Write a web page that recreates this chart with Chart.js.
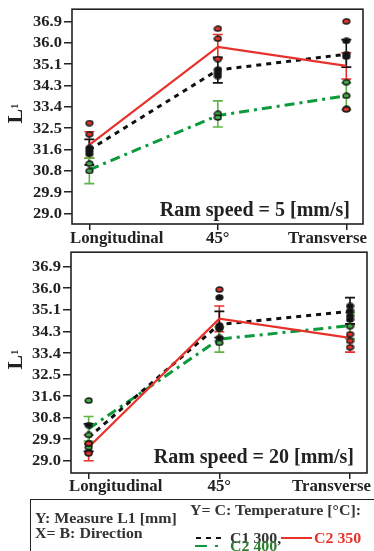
<!DOCTYPE html>
<html>
<head>
<meta charset="utf-8">
<script src="https://cdn.jsdelivr.net/npm/chart.js@4.4.0/dist/chart.umd.min.js"></script>
<style>
  body { margin: 0; background: #fff; width: 374px; height: 551px; overflow: hidden; position: relative; font-family: "Liberation Serif", "Times New Roman", serif; }
  canvas { position: absolute; left: 0; }
  #legend { position: absolute; left: 30px; top: 499px; width: 380px; height: 80px; border: 1.5px solid #222; box-sizing: border-box; }
  .lt { position: absolute; font-weight: bold; font-size: 15px; line-height: 16px; white-space: nowrap; color: #333; transform: scaleX(1.06); transform-origin: left center; }
  .sw { position: absolute; height: 0; }
</style>
</head>
<body>
<canvas id="chart1" width="374" height="247" style="top:0"></canvas>
<canvas id="chart2" width="374" height="252" style="top:243px"></canvas>
<div id="legend"></div>
<div class="lt" style="left:35px;top:510px">Y: Measure L1 [mm]</div>
<div class="lt" style="left:35px;top:525px">X= B: Direction</div>
<div class="lt" style="left:190px;top:502px">Y= C: Temperature [°C]:</div>
<div class="sw" style="left:196px;top:537px;width:5px;border-top:2.5px solid #111"></div>
<div class="sw" style="left:206px;top:537px;width:5px;border-top:2.5px solid #111"></div>
<div class="sw" style="left:216px;top:537px;width:5px;border-top:2.5px solid #111"></div>
<div class="lt" style="left:230px;top:530px">C1 300,</div>
<div class="sw" style="left:281px;top:537px;width:31px;border-top:2px solid #e8312a"></div>
<div class="lt" style="left:314px;top:530px;color:#e8312a">C2 350</div>
<div class="sw" style="left:195px;top:545px;width:12px;border-top:2.5px solid #0b9a3c"></div>
<div class="sw" style="left:215px;top:545px;width:3px;border-top:2.5px solid #0b9a3c"></div>
<div class="lt" style="left:230px;top:538px;color:#2e7d32">C2 400</div>
<script>
const categories = ['Longitudinal', '45°', 'Transverse'];
const yTickLabels = ['29.0', '29.9', '30.8', '31.6', '32.5', '33.4', '34.3', '35.1', '36.0', '36.9'];
const seriesNames = ['C1 300', 'C2 350', 'C2 400'];
const panelTitles = ['Ram speed = 5 [mm/s]', 'Ram speed = 20 [mm/s]'];

// ram speed 5 mm/s
const s5MeanC300 = [31.62, 34.90, 35.55];
const s5LowC300  = [31.00, 34.37, 35.02];
const s5HighC300 = [32.05, 35.42, 36.15];
const s5PtsC300  = [[31.45, 31.58, 31.70], [34.65, 34.78, 34.92], [35.45, 35.55, 36.10]];
const s5MeanC350 = [31.82, 35.85, 35.07];
const s5LowC350  = [31.28, 35.35, 34.53];
const s5HighC350 = [32.36, 36.36, 35.61];
const s5PtsC350  = [[32.72, 32.26], [36.60, 36.19, 35.35], [36.90, 33.28]];
const s5MeanC400 = [30.80, 33.03, 33.84];
const s5LowC400  = [30.23, 32.56, 33.27];
const s5HighC400 = [31.28, 33.63, 34.37];
const s5PtsC400  = [[31.05, 30.75], [33.10, 32.95], [34.40, 33.84, 33.30]];

// ram speed 20 mm/s
const s20MeanC300 = [29.95, 34.55, 35.08];
const s20LowC300  = [29.38, 34.02, 34.57];
const s20HighC300 = [30.50, 35.08, 35.64];
const s20PtsC300  = [[30.45, 29.70, 29.35], [35.65, 34.50, 34.40, 34.00], [35.30, 35.10, 34.90, 34.75]];
const s20MeanC350 = [29.55, 34.78, 34.00];
const s20LowC350  = [29.00, 34.25, 33.42];
const s20HighC350 = [30.05, 35.30, 34.55];
const s20PtsC350  = [[29.30, 29.70], [35.97], [34.15, 33.88, 33.62]];
const s20MeanC400 = [30.30, 33.95, 34.50];
const s20LowC400  = [29.80, 33.42, 33.97];
const s20HighC400 = [30.80, 34.45, 35.03];
const s20PtsC400  = [[31.45, 30.05, 29.55], [34.40, 33.80], [34.48]];

const RED = '#e8312a', BLACK = '#111111', GREEN = '#0b9a3c', GREEN_ERR = '#5db546';
const FONT = 'Liberation Serif';

function dot(fill) {
  const c = document.createElement('canvas');
  c.width = 9; c.height = 7;
  const g = c.getContext('2d');
  g.beginPath();
  g.ellipse(4.5, 3.5, 3.4, 2.5, 0, 0, 2 * Math.PI);
  g.fillStyle = fill; g.fill();
  g.lineWidth = 1.4; g.strokeStyle = '#1a1a1a'; g.stroke();
  return c;
}

function meanSet(label, mean, low, high, color, errColor, dash, width, order) {
  return {
    label: label, showLine: true, order: order,
    data: mean.map((v, i) => ({ x: i, y: v })),
    borderColor: color, borderWidth: width, borderDash: dash,
    pointRadius: 0, fill: false, tension: 0,
    errLow: low, errHigh: high, errColor: errColor
  };
}

function pointSet(label, pts, fill) {
  const data = [];
  pts.forEach((arr, i) => arr.forEach(v => data.push({ x: i, y: v })));
  return { label: label, data: data, showLine: false, order: 0, pointStyle: dot(fill), pointRadius: 4 };
}

// text drawn a bit wider than the font, like the reference
function wideText(ctx, text, x, y, align, sx) {
  ctx.save();
  ctx.translate(x, y);
  ctx.scale(sx, 1);
  ctx.textAlign = align;
  ctx.fillText(text, 0, 0);
  ctx.restore();
}

const framePlugin = {
  id: 'framePlugin',
  beforeDatasetsDraw(chart) {
    const { ctx, scales: { x, y } } = chart;
    chart.data.datasets.forEach(ds => {
      if (!ds.errLow) return;
      ctx.save();
      ctx.strokeStyle = ds.errColor;
      ctx.lineWidth = 1.6;
      ds.errLow.forEach((lo, i) => {
        const px = x.getPixelForValue(i);
        const y1 = y.getPixelForValue(lo), y2 = y.getPixelForValue(ds.errHigh[i]);
        ctx.beginPath();
        ctx.moveTo(px, y1); ctx.lineTo(px, y2);
        ctx.moveTo(px - 5, y1); ctx.lineTo(px + 5, y1);
        ctx.moveTo(px - 5, y2); ctx.lineTo(px + 5, y2);
        ctx.stroke();
      });
      ctx.restore();
    });
  },
  afterDraw(chart) {
    const { ctx, chartArea: a, scales: { x, y } } = chart;
    const o = chart.options.plugins.framePlugin;
    ctx.save();
    ctx.strokeStyle = '#222';
    ctx.lineWidth = 1.6;
    ctx.strokeRect(a.left, a.top, a.right - a.left, a.bottom - a.top);

    ctx.fillStyle = '#222';
    ctx.textBaseline = 'middle';

    // y tick labels
    ctx.font = 'bold 14px "' + FONT + '"';
    y.ticks.forEach((t, i) => {
      wideText(ctx, yTickLabels[i], a.left - 10, y.getPixelForValue(t.value) + 1, 'right', 1.18);
    });

    // x category labels, first and last kept inside the frame
    ctx.font = 'bold 16px "' + FONT + '"';
    categories.forEach((c, i) => {
      const py = a.bottom + o.labelOffset;
      if (i === 0) wideText(ctx, c, a.left - 2, py, 'left', 1.05);
      else if (i === categories.length - 1) wideText(ctx, c, a.right + 4, py, 'right', 1.05);
      else wideText(ctx, c, x.getPixelForValue(i), py, 'center', 1.05);
    });

    // panel title
    ctx.font = 'bold 20px "' + FONT + '"';
    ctx.textAlign = 'right';
    ctx.textBaseline = 'alphabetic';
    ctx.fillText(o.title, a.right - 13, a.bottom - o.titleLift);

    // y axis title L1
    ctx.translate(22, (a.top + a.bottom) / 2 - 3);
    ctx.rotate(-Math.PI / 2);
    ctx.font = 'bold 22px "' + FONT + '"';
    const wL = ctx.measureText('L').width;
    ctx.textAlign = 'left';
    ctx.fillText('L', -(wL + 5) / 2, 0);
    ctx.font = 'bold 10px "' + FONT + '"';
    ctx.fillText('1', -(wL + 5) / 2 + wL, -4);
    ctx.restore();
  }
};

function makePanel(id, sets, yMin, yMax, axisW, axisH, padTop, padRight, title, labelOffset, titleLift) {
  return new Chart(document.getElementById(id), {
    type: 'scatter',
    data: { datasets: sets },
    options: {
      responsive: false,
      animation: false,
      layout: { padding: { top: padTop, right: padRight, left: 0, bottom: 0 } },
      plugins: {
        legend: { display: false },
        tooltip: { enabled: false },
        framePlugin: { title: title, labelOffset: labelOffset, titleLift: titleLift }
      },
      scales: {
        x: {
          type: 'linear', min: -0.135, max: 2.13,
          afterBuildTicks: s => { s.ticks = categories.map((c, i) => ({ value: i })); },
          afterFit: s => { s.height = axisH; },
          border: { display: false },
          grid: { drawOnChartArea: false, drawTicks: true, tickLength: 6, color: '#222', lineWidth: 1.5 },
          ticks: { callback: () => '', padding: 0, maxRotation: 0, autoSkip: false }
        },
        y: {
          min: yMin, max: yMax,
          afterBuildTicks: s => {
            s.ticks = yTickLabels.map((t, i) => ({ value: 29.0 + i * (36.9 - 29.0) / (yTickLabels.length - 1) }));
          },
          afterFit: s => { s.width = axisW; },
          border: { display: false },
          grid: { drawOnChartArea: false, drawTicks: true, tickLength: 8, color: '#222', lineWidth: 1.5 },
          ticks: { callback: () => '', padding: 2, autoSkip: false }
        }
      }
    },
    plugins: [framePlugin]
  });
}

makePanel('chart1', [
  pointSet(seriesNames[1], s5PtsC350, RED),
  pointSet(seriesNames[0], s5PtsC300, BLACK),
  pointSet(seriesNames[2], s5PtsC400, '#3fae45'),
  meanSet(seriesNames[1], s5MeanC350, s5LowC350, s5HighC350, RED, RED, [], 2.2, 1),
  meanSet(seriesNames[0], s5MeanC300, s5LowC300, s5HighC300, BLACK, BLACK, [5, 5], 3, 2),
  meanSet(seriesNames[2], s5MeanC400, s5LowC400, s5HighC400, GREEN, GREEN_ERR, [10, 5, 3, 5], 3, 3)
], 28.57, 37.4, 72, 23, 5, 11, panelTitles[0], 15, 8);

makePanel('chart2', [
  pointSet(seriesNames[1], s20PtsC350, RED),
  pointSet(seriesNames[0], s20PtsC300, BLACK),
  pointSet(seriesNames[2], s20PtsC400, '#3fae45'),
  meanSet(seriesNames[1], s20MeanC350, s20LowC350, s20HighC350, RED, RED, [], 2.2, 1),
  meanSet(seriesNames[0], s20MeanC300, s20LowC300, s20HighC300, BLACK, BLACK, [5, 5], 3, 2),
  meanSet(seriesNames[2], s20MeanC400, s20LowC400, s20HighC400, GREEN, GREEN_ERR, [10, 5, 3, 5], 3, 3)
], 28.5, 37.49, 71, 22, 5, 7, panelTitles[1], 14, 10);
</script>
</body>
</html>
